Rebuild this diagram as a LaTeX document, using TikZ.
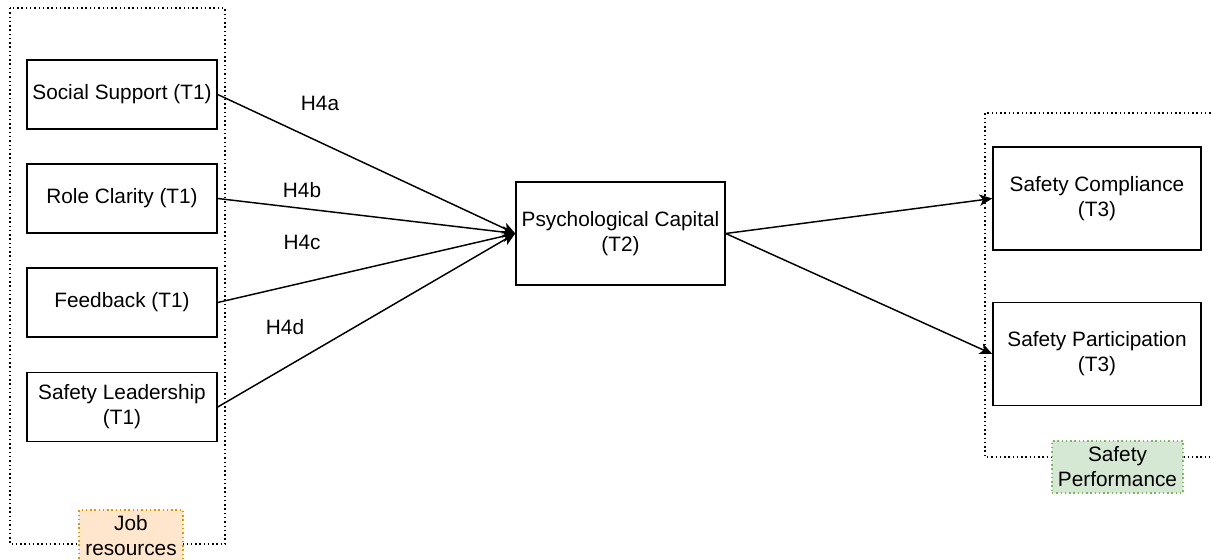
\documentclass[tikz,border=0pt]{standalone}
\usepackage{fontspec}
\setmainfont{Liberation Sans}
\usetikzlibrary{arrows.meta}
\definecolor{jobfill}{HTML}{FFE6CC}
\definecolor{jobline}{HTML}{D79B00}
\definecolor{perffill}{HTML}{D5E8D4}
\definecolor{perfline}{HTML}{82B366}
\tikzset{
  px/.style={x=0.75pt,y=-0.75pt},
  txt/.style={font=\fontsize{15.6}{18.75}\selectfont, align=center, text=black},
  varbox/.style={txt, draw=black, line width=1.1pt, inner sep=0pt},
  leftbox/.style={varbox, minimum width=142.5pt, minimum height=51.75pt},
  midbox/.style={varbox, minimum width=156.75pt, minimum height=77.25pt},
  rightbox/.style={varbox, minimum width=156pt, minimum height=77.5pt},
  groupline/.style={line width=1.1pt, dash pattern=on 1.1pt off 2.1pt},
  grouplabel/.style={txt, groupline, inner sep=0pt, minimum height=39pt},
  link/.style={line width=1.1pt, -{Stealth[length=9.5pt,width=8.5pt,inset=2.5pt]}},
  hyp/.style={txt}
}
\begin{document}
\begin{tikzpicture}[px]
  \useasboundingbox (0,0) rectangle (1211,560);

  % group frames
  \draw[groupline] (10,8) rectangle (225,544);
  \draw[groupline] (1215,113) -- (985,113) -- (985,457) -- (1215,457);

  % group labels
  \node[grouplabel, draw=jobline, fill=jobfill, minimum width=78pt] (jr) at (131,536) {Job\\resources};
  \node[grouplabel, draw=perfline, fill=perffill, minimum width=98.25pt] (sp) at (1117.5,467) {Safety\\Performance};

  % job resources
  \node[leftbox] (ss) at (122,94.5) {Social Support (T1)};
  \node[leftbox] (rc) at (122,198.5) {Role Clarity (T1)};
  \node[leftbox] (fb) at (122,302.5) {Feedback (T1)};
  \node[leftbox] (sl) at (122,407) {Safety Leadership\\(T1)};

  % mediator
  \node[midbox] (pc) at (620.5,233.5) {Psychological Capital\\(T2)};

  % outcomes
  \node[rightbox] (sc) at (1097,198.5) {Safety Compliance\\(T3)};
  \node[rightbox] (spa) at (1097,354) {Safety Participation\\(T3)};

  % paths
  \draw[link] (ss.east) -- (pc.west);
  \draw[link] (rc.east) -- (pc.west);
  \draw[link] (fb.east) -- (pc.west);
  \draw[link] (sl.east) -- (pc.west);
  \draw[link] (pc.east) -- (sc.west);
  \draw[link] (pc.east) -- (spa.west);

  % hypothesis labels
  \node[hyp] (h4a) at (320,103) {H4a};
  \node[hyp] (h4b) at (302,190) {H4b};
  \node[hyp] (h4c) at (302,242) {H4c};
  \node[hyp] (h4d) at (285,327) {H4d};
\end{tikzpicture}
\end{document}
